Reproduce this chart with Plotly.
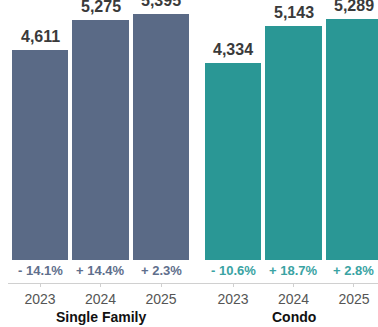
import plotly.graph_objects as go

# Median sale price data (in thousands) by property type and year
years = ["2023", "2024", "2025"]
groups = ["Single Family", "Condo"]
single_family = [4611, 5275, 5395]
condo = [4334, 5143, 5289]
sf_change = ["- 14.1%", "+ 14.4%", "+ 2.3%"]
condo_change = ["- 10.6%", "+ 18.7%", "+ 2.8%"]

SF_COLOR = "#5a6a86"
CONDO_COLOR = "#2a9795"
SF_TEXT = "#5f6f8c"
CONDO_TEXT = "#3aa3a3"
FONT = "Liberation Sans, Arial, sans-serif"

W, H = 378, 327
GROUP_OFFSET = 3.19   # spacing between the two year groups, in bar slots
BAR_WIDTH = 0.93

series = [
    (single_family, sf_change, SF_COLOR, SF_TEXT),
    (condo, condo_change, CONDO_COLOR, CONDO_TEXT),
]

fig = go.Figure()
annotations = []
tickvals, ticktext = [], []

for gi, (vals, changes, color, tcolor) in enumerate(series):
    xs = [gi * GROUP_OFFSET + i for i in range(len(years))]
    fig.add_trace(go.Bar(
        x=xs, y=vals, width=BAR_WIDTH, marker=dict(color=color, line=dict(width=0)),
        name=groups[gi], hoverinfo="skip",
    ))
    tickvals += xs
    ticktext += years
    for x, v, c in zip(xs, vals, changes):
        annotations.append(dict(
            x=x, y=v, xref="x", yref="y", text=f"{v:,}", showarrow=False,
            yanchor="bottom", yshift=3,
            font=dict(family=FONT, size=16, color="#3a3a3a", weight="bold"),
        ))
        annotations.append(dict(
            x=x, y=0, xref="x", yref="y", text=c, showarrow=False,
            yanchor="top", yshift=-1,
            font=dict(family=FONT, size=13, color=tcolor, weight="bold"),
        ))
    annotations.append(dict(
        x=xs[1], y=10 / H, xref="x", yref="paper", text=groups[gi], showarrow=False,
        yanchor="middle",
        font=dict(family=FONT, size=14, color="#111111", weight="bold"),
    ))

x_left_px, x0_px, slot_px = 8, 40, 60.5
x_range = [(x_left_px - x0_px) / slot_px, (W - x0_px) / slot_px]

scale = 0.04555       # pixels per unit
base_px, axis_px = 260, 283
y_range = [-(axis_px - base_px) / scale, base_px / scale]

fig.update_layout(
    width=W, height=H,
    margin=dict(l=0, r=0, t=0, b=0),
    paper_bgcolor="white", plot_bgcolor="white",
    showlegend=False, bargap=0,
    annotations=annotations,
    xaxis=dict(
        domain=[x_left_px / W, 1], range=x_range,
        tickvals=tickvals, ticktext=ticktext,
        showgrid=False, zeroline=False,
        showline=True, linecolor="#d0d0d0", linewidth=1,
        ticks="outside", ticklen=3, tickcolor="#d0d0d0",
        tickfont=dict(family=FONT, size=14, color="#555555"),
    ),
    yaxis=dict(
        domain=[(H - axis_px) / H, 1], range=y_range,
        visible=False, showgrid=False, zeroline=False,
    ),
)

fig.write_html("out.html")
